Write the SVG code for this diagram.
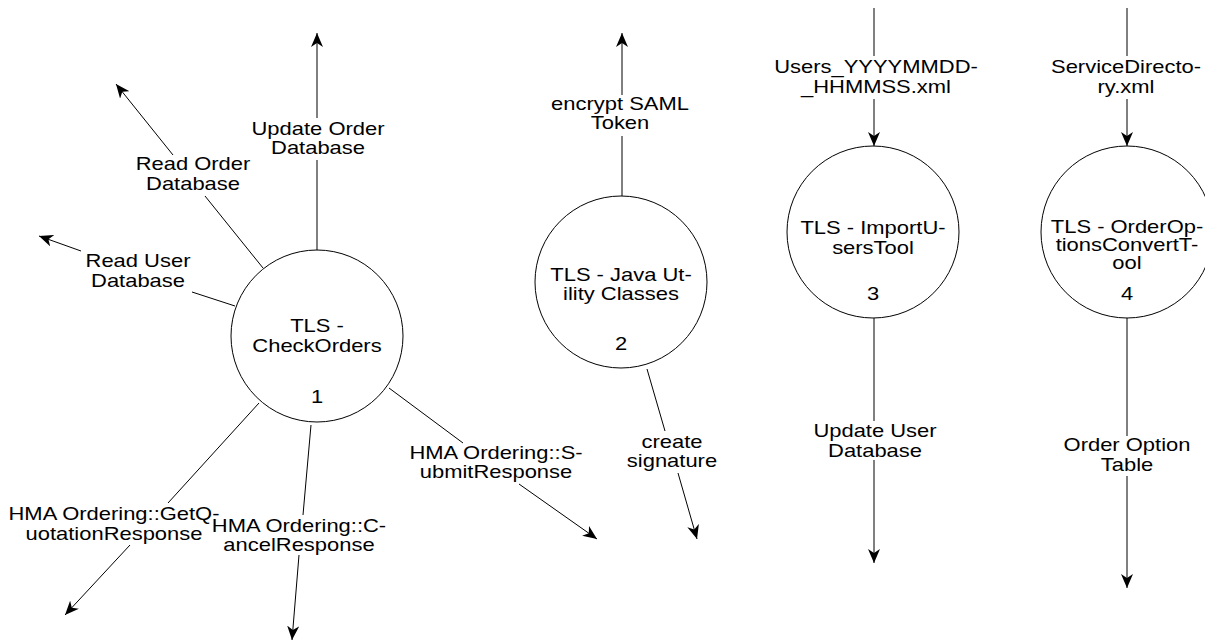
<svg xmlns="http://www.w3.org/2000/svg" width="1205" height="642" viewBox="0 0 1205 642">
<defs>
<marker id="arr" viewBox="0 0 14 12" refX="14" refY="6" markerWidth="14" markerHeight="12" markerUnits="userSpaceOnUse" orient="auto">
<path d="M0,0 L14,6 L0,12 L4,6 Z" fill="#000"/>
</marker>
</defs>
<style>
.node{fill:#fff;stroke:#000;stroke-width:1}
.ln{fill:none;stroke:#000;stroke-width:1}
.t{font-family:"Liberation Sans",Arial,sans-serif;font-size:18px;fill:#000;text-anchor:middle}
</style>
<rect width="1205" height="642" fill="#fff"/>
<g id="connectors">
<line class="ln" x1="317" y1="250" x2="317" y2="160"/>
<line class="ln" x1="317" y1="118" x2="317" y2="33" marker-end="url(#arr)"/>
<line class="ln" x1="263" y1="268" x2="205" y2="196"/>
<line class="ln" x1="173" y1="155" x2="116" y2="84" marker-end="url(#arr)"/>
<line class="ln" x1="235" y1="306" x2="192" y2="292"/>
<line class="ln" x1="81" y1="251" x2="39" y2="236" marker-end="url(#arr)"/>
<line class="ln" x1="259" y1="403" x2="168" y2="503"/>
<line class="ln" x1="130" y1="545" x2="65" y2="615" marker-end="url(#arr)"/>
<line class="ln" x1="311" y1="425" x2="303" y2="515"/>
<line class="ln" x1="299" y1="555" x2="292" y2="640" marker-end="url(#arr)"/>
<line class="ln" x1="389" y1="388" x2="463" y2="443"/>
<line class="ln" x1="519" y1="484" x2="597" y2="539" marker-end="url(#arr)"/>
<line class="ln" x1="622" y1="196" x2="622" y2="136"/>
<line class="ln" x1="622" y1="95" x2="622" y2="33" marker-end="url(#arr)"/>
<line class="ln" x1="647" y1="369" x2="665" y2="431"/>
<line class="ln" x1="678" y1="473" x2="697" y2="539" marker-end="url(#arr)"/>
<line class="ln" x1="874" y1="8" x2="874" y2="56"/>
<line class="ln" x1="874" y1="99" x2="874" y2="146" marker-end="url(#arr)"/>
<line class="ln" x1="1127" y1="8" x2="1127" y2="56"/>
<line class="ln" x1="1127" y1="99" x2="1127" y2="146" marker-end="url(#arr)"/>
<line class="ln" x1="874" y1="318" x2="874" y2="421"/>
<line class="ln" x1="874" y1="460" x2="874" y2="563" marker-end="url(#arr)"/>
<line class="ln" x1="1127" y1="318" x2="1127" y2="436"/>
<line class="ln" x1="1127" y1="476" x2="1127" y2="588" marker-end="url(#arr)"/>
</g>
<g id="connector-labels">
<text class="t" transform="translate(318,0) scale(1.22,1)"><tspan x="0" y="135">Update Order</tspan><tspan x="0" y="154">Database</tspan></text>
<text class="t" transform="translate(193,0) scale(1.22,1)"><tspan x="0" y="170">Read Order</tspan><tspan x="0" y="190">Database</tspan></text>
<text class="t" transform="translate(138,0) scale(1.22,1)"><tspan x="0" y="267">Read User</tspan><tspan x="0" y="287">Database</tspan></text>
<text class="t" transform="translate(114,0) scale(1.22,1)"><tspan x="0" y="520">HMA Ordering::GetQ-</tspan><tspan x="0" y="540">uotationResponse</tspan></text>
<text class="t" transform="translate(299,0) scale(1.22,1)"><tspan x="0" y="532">HMA Ordering::C-</tspan><tspan x="0" y="551">ancelResponse</tspan></text>
<text class="t" transform="translate(496,0) scale(1.22,1)"><tspan x="0" y="459">HMA Ordering::S-</tspan><tspan x="0" y="478">ubmitResponse</tspan></text>
<text class="t" transform="translate(620,0) scale(1.22,1)"><tspan x="0" y="110">encrypt SAML</tspan><tspan x="0" y="129">Token</tspan></text>
<text class="t" transform="translate(672,0) scale(1.22,1)"><tspan x="0" y="448">create</tspan><tspan x="0" y="467">signature</tspan></text>
<text class="t" transform="translate(876,0) scale(1.22,1)"><tspan x="0" y="73">Users_YYYYMMDD-</tspan><tspan x="0" y="93">_HHMMSS.xml</tspan></text>
<text class="t" transform="translate(1126,0) scale(1.22,1)"><tspan x="0" y="73">ServiceDirecto-</tspan><tspan x="0" y="93">ry.xml</tspan></text>
<text class="t" transform="translate(875,0) scale(1.22,1)"><tspan x="0" y="437">Update User</tspan><tspan x="0" y="457">Database</tspan></text>
<text class="t" transform="translate(1127,0) scale(1.22,1)"><tspan x="0" y="451">Order Option</tspan><tspan x="0" y="471">Table</tspan></text>
</g>
<g id="node1">
<circle class="node" cx="317" cy="336" r="86"/>
<text class="t" transform="translate(317,0) scale(1.22,1)"><tspan x="0" y="332">TLS -</tspan><tspan x="0" y="352">CheckOrders</tspan><tspan x="0" y="403">1</tspan></text>
</g>
<g id="node2">
<circle class="node" cx="621" cy="282" r="86"/>
<text class="t" transform="translate(621,0) scale(1.22,1)"><tspan x="0" y="281">TLS - Java Ut-</tspan><tspan x="0" y="300">ility Classes</tspan><tspan x="0" y="350">2</tspan></text>
</g>
<g id="node3">
<circle class="node" cx="873" cy="232" r="86"/>
<text class="t" transform="translate(873,0) scale(1.22,1)"><tspan x="0" y="234">TLS - ImportU-</tspan><tspan x="0" y="254">sersTool</tspan><tspan x="0" y="300">3</tspan></text>
</g>
<g id="node4">
<circle class="node" cx="1127" cy="232" r="86"/>
<text class="t" transform="translate(1127,0) scale(1.22,1)"><tspan x="0" y="233">TLS - OrderOp-</tspan><tspan x="0" y="251">tionsConvertT-</tspan><tspan x="0" y="269">ool</tspan><tspan x="0" y="300">4</tspan></text>
</g>
</svg>
